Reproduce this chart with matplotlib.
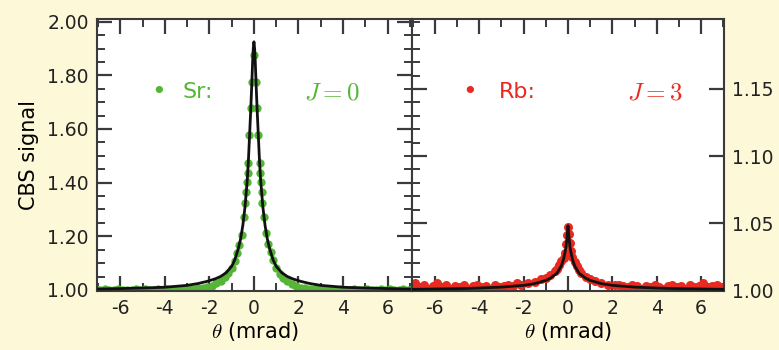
import matplotlib
matplotlib.use("Agg")
import matplotlib.pyplot as plt
from matplotlib.ticker import MultipleLocator, FormatStrFormatter

plt.rcParams['font.family'] = ['DejaVu Sans']
plt.rcParams['mathtext.fontset'] = 'cm'
plt.rcParams['axes.unicode_minus'] = False

# Sr (J = 0) measured CBS cone
sr_theta = [-7.1, -6.9, -6.7, -6.5, -6.3, -6.1, -5.9, -5.7, -5.5, -5.3, -5.1, -4.9, -4.7,
            -4.5, -4.3, -4.1, -3.9, -3.7, -3.5, -3.3, -3.1, -2.9, -2.7, -2.5, -2.3,
            -2.1, -1.9, -1.7, -1.5, -1.3, -1.15, -1.0, -0.86, -0.75, -0.65, -0.55, -0.45,
            -0.38, -0.34, -0.31, -0.28, -0.25, -0.2, -0.14, -0.09, 0.0, 0.09, 0.14, 0.2,
            0.25, 0.28, 0.31, 0.34, 0.38, 0.45, 0.55, 0.65, 0.75, 0.86, 1.0, 1.15, 1.3,
            1.5, 1.7, 1.9, 2.1,
            2.3, 2.5, 2.7, 2.9, 3.1, 3.3, 3.5, 3.7, 3.9, 4.1, 4.3, 4.5, 4.7, 4.9, 5.1,
            5.3, 5.5, 5.7, 5.9, 6.1, 6.3, 6.5, 6.7, 6.9, 7.1]
sr_signal = [1.002, 1.000, 1.003, 0.999, 1.001, 1.002, 1.000, 0.999, 1.001, 1.003, 1.000, 1.002, 1.001,
             0.999, 1.002, 1.000, 1.003, 1.001, 1.002, 1.004, 1.002, 1.005, 1.004, 1.006, 1.007,
             1.010, 1.016, 1.024, 1.034, 1.048, 1.063, 1.082, 1.108, 1.138, 1.168, 1.205, 1.272,
             1.325, 1.366, 1.403, 1.437, 1.474, 1.578, 1.679, 1.776, 1.877, 1.776, 1.679, 1.578,
             1.474, 1.437, 1.403, 1.366, 1.325, 1.272, 1.212, 1.170, 1.140, 1.110, 1.080, 1.060, 1.045,
             1.032, 1.022, 1.014, 1.009,
             1.006, 1.004, 1.005, 1.002, 1.003, 1.001, 1.002, 1.000, 1.003, 1.001, 0.999, 1.002, 1.000,
             1.001, 1.003, 0.999, 1.001, 1.002, 1.000, 1.002, 0.999, 1.001, 1.003, 1.000, 1.002]

# Sr fit
sr_fit_theta = [-7.2, -6.0, -5.0, -4.0, -3.0, -2.5, -2.1, -1.75, -1.5, -1.25, -1.0, -0.86, -0.7,
                -0.6, -0.5, -0.4, -0.3, -0.25, -0.2, -0.15, -0.1, -0.06, -0.03, 0.0,
                0.03, 0.06, 0.1, 0.15, 0.2, 0.25, 0.3, 0.4, 0.5, 0.6, 0.7, 0.86, 1.0,
                1.25, 1.5, 1.75, 2.1, 2.5, 3.0, 4.0, 5.0, 6.0, 7.2]
sr_fit = [1.003, 1.005, 1.007, 1.010, 1.017, 1.024, 1.032, 1.041, 1.050, 1.064, 1.088, 1.112, 1.155,
          1.190, 1.240, 1.310, 1.410, 1.480, 1.570, 1.660, 1.760, 1.850, 1.900, 1.925,
          1.900, 1.850, 1.760, 1.660, 1.570, 1.480, 1.410, 1.310, 1.240, 1.190, 1.155, 1.112, 1.088,
          1.064, 1.050, 1.041, 1.032, 1.024, 1.017, 1.010, 1.007, 1.005, 1.003]

# Rb (J = 3) measured CBS cone
rb_theta = [-7.1, -6.9, -6.7, -6.5, -6.3, -6.1, -5.9, -5.7, -5.5, -5.3, -5.1, -4.9, -4.7,
            -4.5, -4.3, -4.1, -3.9, -3.7, -3.5, -3.3, -3.1, -2.9, -2.7, -2.5, -2.3,
            -2.1, -1.8, -1.5, -1.2, -1.0, -0.8, -0.6, -0.5, -0.4, -0.3, -0.2, -0.15, -0.1,
            -0.05, 0.0, 0.05, 0.1, 0.15, 0.2, 0.3, 0.4, 0.5, 0.6, 0.8, 1.0, 1.2, 1.5, 1.8, 2.1,
            2.3, 2.5, 2.7, 2.9, 3.1, 3.3, 3.5, 3.7, 3.9, 4.1, 4.3, 4.5, 4.7, 4.9, 5.1,
            5.3, 5.5, 5.7, 5.9, 6.1, 6.3, 6.5, 6.7, 6.9, 7.1]
rb_signal = [1.003, 1.005, 1.002, 1.004, 1.001, 1.003, 1.005, 1.002, 1.004, 1.001, 1.003, 1.002, 1.004,
             1.001, 1.003, 1.004, 1.002, 1.003, 1.001, 1.004, 1.002, 1.003, 1.004, 1.003, 1.005,
             1.004, 1.005, 1.006, 1.008, 1.009, 1.011, 1.014, 1.016, 1.019, 1.022, 1.024, 1.028, 1.034,
             1.041, 1.047, 1.042, 1.035, 1.029, 1.025, 1.021, 1.018, 1.015, 1.013, 1.010, 1.008, 1.0065, 1.005, 1.004, 1.004,
             1.004, 1.003, 1.002, 1.004, 1.003, 1.001, 1.003, 1.002, 1.004, 1.002, 1.001, 1.003, 1.004,
             1.002, 1.003, 1.001, 1.004, 1.002, 1.003, 1.005, 1.002, 1.003, 1.004, 1.002, 1.004]

# Rb fit
rb_fit_theta = [-7.2, -6.0, -5.0, -4.0, -3.0, -2.0, -1.5, -1.0, -0.8, -0.5, -0.3, -0.2, -0.1, -0.05, 0.0,
                0.05, 0.1, 0.2, 0.3, 0.5, 0.8, 1.0, 1.5, 2.0, 3.0, 4.0, 5.0, 6.0, 7.2]
rb_fit = [1.0005, 1.0008, 1.0010, 1.0015, 1.0022, 1.0035, 1.0048, 1.0072, 1.0088, 1.0125, 1.0180, 1.0230,
          1.0310, 1.0380, 1.0480,
          1.0380, 1.0310, 1.0230, 1.0180, 1.0125, 1.0088, 1.0072, 1.0048, 1.0035, 1.0022, 1.0015, 1.0010,
          1.0008, 1.0005]

x_ticks = [-6, -4, -2, 0, 2, 4, 6]

bg = '#fdf8d8'
green = '#55b536'
red = '#e82a20'
axcol = '#3a3a3a'

fig = plt.figure(figsize=(7.79, 3.5), dpi=100, facecolor=bg)
ax1 = fig.add_axes([97 / 779, 1 - 291 / 350, 315 / 779, 272 / 350])
ax2 = fig.add_axes([412 / 779, 1 - 291 / 350, 312 / 779, 272 / 350])

# left panel: Sr
ax1.plot(sr_theta, sr_signal, 'o', color=green, ms=6, mew=0, zorder=2)
ax1.plot(sr_fit_theta, sr_fit, '-', color='#111111', lw=2.0, zorder=3)
ax1.set_xlim(-7.05, 7.1)
ax1.set_ylim(0.996, 2.01)
ax1.yaxis.set_major_locator(MultipleLocator(0.2))
ax1.yaxis.set_minor_locator(MultipleLocator(0.05))
ax1.yaxis.set_major_formatter(FormatStrFormatter('%.2f'))
ax1.set_ylabel('CBS signal', fontsize=15, labelpad=6)
ax1.text(0.197, 0.73, '\u2022', color=green, fontsize=18, transform=ax1.transAxes,
         ha='center', va='center')
ax1.text(0.273, 0.73, 'Sr:', color=green, fontsize=16, transform=ax1.transAxes,
         ha='left', va='center')
ax1.text(0.746, 0.73, r'$J = 0$', color=green, fontsize=18, transform=ax1.transAxes,
         ha='center', va='center')

# right panel: Rb
ax2.plot(rb_theta, rb_signal, 'o', color=red, ms=6.5, mew=0, zorder=2)
ax2.plot(rb_fit_theta, rb_fit, '-', color='#111111', lw=2.0, zorder=3)
ax2.set_xlim(-7.03, 7.03)
ax2.set_ylim(0.9993, 1.2022)
ax2.yaxis.set_minor_locator(MultipleLocator(0.01))
ax2.set_yticks([1.00, 1.05, 1.10, 1.15])
ax2.yaxis.set_major_formatter(FormatStrFormatter('%.2f'))
ax2.yaxis.tick_right()
ax2.text(0.186, 0.73, '\u2022', color=red, fontsize=18, transform=ax2.transAxes,
         ha='center', va='center')
ax2.text(0.28, 0.73, 'Rb:', color=red, fontsize=16, transform=ax2.transAxes,
         ha='left', va='center')
ax2.text(0.779, 0.73, r'$J = 3$', color=red, fontsize=18, transform=ax2.transAxes,
         ha='center', va='center')

for ax in (ax1, ax2):
    ax.set_facecolor('white')
    ax.set_xticks(x_ticks)
    ax.xaxis.set_minor_locator(MultipleLocator(1))
    ax.set_xlabel(r'$\theta$ (mrad)', fontsize=15, labelpad=1)
    for s in ax.spines.values():
        s.set_color(axcol)
        s.set_linewidth(1.5)
    ax.tick_params(which='both', direction='in', top=True, bottom=True, color=axcol,
                   labelsize=13.5, labelcolor='#222222', pad=6)
    ax.tick_params(which='major', length=11, width=1.6)
    ax.tick_params(which='minor', length=6, width=1.4)

ax1.tick_params(which='both', left=True, right=True)
ax2.tick_params(which='major', left=True, right=True, labelleft=False, labelright=True)
ax2.tick_params(which='minor', left=True, right=False)

fig.savefig('out.png', dpi=100, facecolor=bg)
